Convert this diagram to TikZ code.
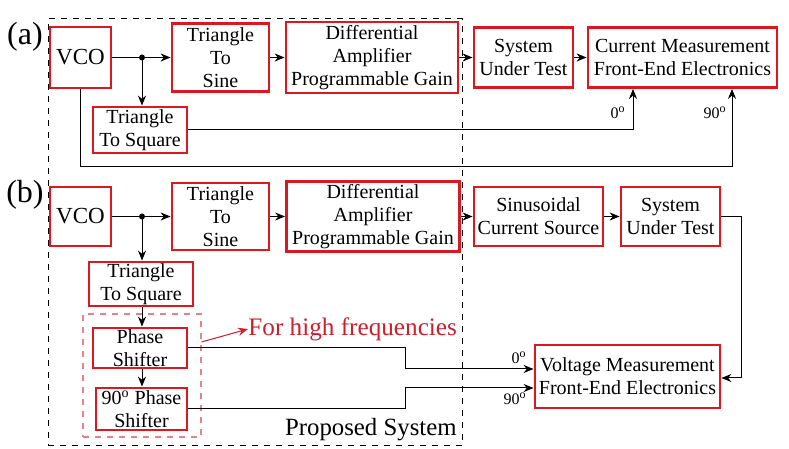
\documentclass[tikz,border=0pt]{standalone}
\usepackage{fontspec}
\setmainfont{Liberation Serif}[Ligatures=TeX]
\newfontfamily\tnr{Liberation Serif}
\usetikzlibrary{arrows.meta,calc}
\definecolor{BoxClr}{RGB}{218,24,32}
\definecolor{NoteClr}{RGB}{205,30,45}
\definecolor{FrameClr}{RGB}{228,130,140}

\tikzset{
  blk/.style={draw=BoxClr,line width=1.4pt,align=center,inner sep=0pt,
    font=\tnr\fontsize{10}{11.5}\selectfont},
  arr/.style={-{Stealth[length=5pt,width=4pt]},line width=0.5pt},
  deg/.style={font=\tnr\fontsize{8}{9}\selectfont,inner sep=0pt},
  tag/.style={font=\tnr\fontsize{16}{18}\selectfont,inner sep=0pt}
}

\begin{document}
\begin{tikzpicture}[x=0.5pt,y=-0.5pt]
\useasboundingbox (0,0) rectangle (789,449);

% frames
\node[draw,dashed,line width=0.5pt,minimum width=207pt,minimum height=213.5pt,inner sep=0pt] (PropSys) at (255,232.5) {};
\node[anchor=south east,inner sep=0pt,font=\tnr\fontsize{12.4}{14}\selectfont] (PropTxt) at (457,441) {Proposed System};
\node[draw=FrameClr,dashed,line width=0.6pt,minimum width=59pt,minimum height=61.5pt,inner sep=0pt] (HF) at (142,375.5) {};

% (a)
\node[tag] (TagA) at (25,37) {(a)};
\node[blk,minimum width=30.5pt,minimum height=30.5pt,font=\tnr\fontsize{11.5}{13}\selectfont] (VCOa) at (80.5,57.5) {VCO};
\node[blk,minimum width=48.5pt,minimum height=34pt] (TSinA) at (220.5,57.5) {Triangle\\To\\Sine};
\node[blk,minimum width=47pt,minimum height=23pt] (TSqA) at (140,130) {Triangle\\To Square};
\node[blk,minimum width=86pt,minimum height=35.5pt] (DAa) at (372,57.5) {Differential\\Amplifier\\Programmable Gain};
\node[blk,minimum width=49.5pt,minimum height=30pt] (SUTa) at (523.5,57.5) {System\\Under Test};
\node[blk,minimum width=94.5pt,minimum height=30pt] (CMa) at (682.5,57.5) {Current Measurement\\Front-End Electronics};

\coordinate (Ja) at (142,57.5);
\draw[line width=0.5pt] (VCOa.east) -- (Ja);
\fill (Ja) circle (1.5pt);
\draw[arr] (Ja) -- (TSinA.west);
\draw[arr] (Ja) -- (TSqA.north -| Ja);
\draw[arr] (TSinA) -- (DAa);
\draw[arr] (DAa) -- (SUTa);
\draw[arr] (SUTa) -- (CMa);
\draw[arr] (TSqA.east) -| ($(CMa.south)+(-49.5,0)$);
\draw[arr] (VCOa.south) |- (80.5,167) -| ($(CMa.south)+(49.5,0)$);
\node[deg,anchor=east] (Z0a) at (626,113) {0\textsuperscript{o}};
\node[deg,anchor=east] (N90a) at (727,113) {90\textsuperscript{o}};

% (b)
\node[tag] (TagB) at (25,195) {(b)};
\node[blk,minimum width=30.5pt,minimum height=29.5pt,font=\tnr\fontsize{11.5}{13}\selectfont] (VCOb) at (80.5,216.5) {VCO};
\node[blk,minimum width=48.5pt,minimum height=33.5pt] (TSinB) at (220.5,216.5) {Triangle\\To\\Sine};
\node[blk,minimum width=52pt,minimum height=22pt] (TSqB) at (141,284) {Triangle\\To Square};
\node[blk,minimum width=47pt,minimum height=20pt] (PS) at (140,348) {Phase\\Shifter};
\node[blk,minimum width=45.5pt,minimum height=21pt] (PS90) at (141.5,409) {90\textsuperscript{o} Phase\\Shifter};
\node[blk,minimum width=86.5pt,minimum height=35pt] (DAb) at (373,216.5) {Differential\\Amplifier\\Programmable Gain};
\node[blk,minimum width=64.5pt,minimum height=29.5pt] (SCS) at (538.5,216.5) {Sinusoidal\\Current Source};
\node[blk,minimum width=49.5pt,minimum height=29.5pt] (SUTb) at (670.5,216.5) {System\\Under Test};
\node[blk,minimum width=92.5pt,minimum height=31.5pt] (VM) at (627.5,376.5) {Voltage Measurement\\Front-End Electronics};

\coordinate (Jb) at (142,216.5);
\draw[line width=0.5pt] (VCOb.east) -- (Jb);
\fill (Jb) circle (1.5pt);
\draw[arr] (Jb) -- (TSinB.west);
\draw[arr] (Jb) -- (TSqB.north -| Jb);
\draw[arr] (TSqB.south -| Jb) -- (PS.north -| Jb);
\draw[arr] (PS.south -| Jb) -- (PS90.north -| Jb);
\draw[arr] (TSinB) -- (DAb);
\draw[arr] (DAb) -- (SCS);
\draw[arr] (SCS) -- (SUTb);
\draw[arr] (SUTb.east) -- ++(20,0) |- ($(VM.east)+(0,1.5)$);

\coordinate (M0) at (405,369);
\coordinate (M90) at (405,388);
\draw[arr] (PS.east) -| (M0) -- (M0 -| VM.west);
\draw[arr] (PS90.east) -| (M90) -- (M90 -| VM.west);
\node[deg,anchor=east] (Z0b) at (527,358) {0\textsuperscript{o}};
\node[deg,anchor=east] (N90b) at (527,399) {90\textsuperscript{o}};

% note
\node[anchor=west,inner sep=0pt,text=NoteClr,font=\tnr\fontsize{12.6}{14}\selectfont] (Note) at (248,329) {For high frequencies};
\draw[-{Stealth[length=5pt,width=4pt]},draw=NoteClr,fill=NoteClr,line width=0.5pt] ($(HF.north east)!0.23!(HF.south east)$) -- (Note.west);

\end{tikzpicture}
\end{document}
